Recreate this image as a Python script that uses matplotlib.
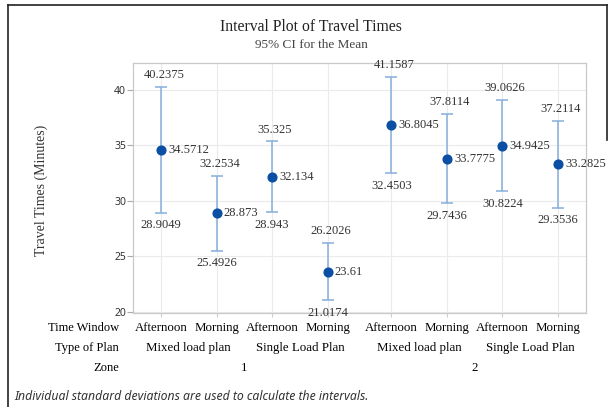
import numpy as np
import matplotlib
matplotlib.use('Agg')
import matplotlib.pyplot as plt
from matplotlib.transforms import blended_transform_factory
from matplotlib.lines import Line2D

# data
time_window = ['Afternoon', 'Morning', 'Afternoon', 'Morning',
               'Afternoon', 'Morning', 'Afternoon', 'Morning']
plan_types = ['Mixed load plan', 'Single Load Plan', 'Mixed load plan', 'Single Load Plan']
zones = ['1', '2']
means = [34.5712, 28.873, 32.134, 23.61, 36.8045, 33.7775, 34.9425, 33.2825]
lower = [28.9049, 25.4926, 28.943, 21.0174, 32.4503, 29.7436, 30.8224, 29.3536]
upper = [40.2375, 32.2534, 35.325, 26.2026, 41.1587, 37.8114, 39.0626, 37.2114]
y_ticks = [20, 25, 30, 35, 40]

W, H = 610, 407
serif = 'Liberation Serif'
line_col = '#86aedc'
dot_col = '#0a4fa3'
txt_col = '#333333'

# x positions: small extra gap between zones
xpos = np.array([1, 2, 3, 4, 5.15, 6.15, 7.15, 8.15])

fig = plt.figure(figsize=(W / 100, H / 100), dpi=100)
ax = fig.add_axes([133 / W, 1 - 313 / H, (586 - 133) / W, (313 - 63) / H])

means = np.array(means)
lo = means - np.array(lower)
hi = np.array(upper) - means
ax.errorbar(xpos, means, yerr=[lo, hi], fmt='none', ecolor=line_col,
            elinewidth=1.1, capsize=4, capthick=1.1, zorder=3)
ax.plot(xpos, means, 'o', color=dot_col, markersize=6.3, zorder=4)

for x, m, l, u in zip(xpos, means, lower, upper):
    ax.annotate(f'{u:g}', (x, u), xytext=(2, 4), textcoords='offset points',
                ha='center', va='bottom', fontsize=9, family=serif, color=txt_col)
    ax.annotate(f'{l:g}', (x, l), xytext=(0, -4.5), textcoords='offset points',
                ha='center', va='top', fontsize=9, family=serif, color=txt_col)
    ax.annotate(f'{m:g}', (x, m), xytext=(5, 0), textcoords='offset points',
                ha='left', va='center', fontsize=9, family=serif, color=txt_col)

ax.set_xlim(0.495, 8.655)
ax.set_ylim(19.88, 42.39)
ax.set_yticks(y_ticks)
ax.set_xticks(xpos)
ax.set_xticklabels([])
ax.tick_params(axis='y', labelsize=7.5, colors='#aaaaaa', labelcolor=txt_col,
               length=4, width=0.8, pad=1)
ax.tick_params(axis='x', colors='#cccccc', length=3, width=0.8)
for lbl in ax.get_yticklabels():
    lbl.set_family('Noto Sans')
ax.grid(True, color='#ebebeb', linewidth=0.8, zorder=0)
ax.set_axisbelow(True)
for s in ax.spines.values():
    s.set_color('#c8c8c8')
    s.set_linewidth(0.9)

# category rows under the axis
tr = blended_transform_factory(ax.transData, fig.transFigure)
rows_y = [1 - 328 / H, 1 - 348 / H, 1 - 368 / H]
row_names = ['Time Window', 'Type of Plan', 'Zone']
for name, yy in zip(row_names, rows_y):
    fig.text(119 / W, yy, name, ha='right', va='center', fontsize=9,
             family=serif, color='black')
for x, t in zip(xpos, time_window):
    fig.text(x, rows_y[0], t, transform=tr, ha='center', va='center',
             fontsize=9.3, family=serif, color='black')
for i, p in enumerate(plan_types):
    xc = (xpos[2 * i] + xpos[2 * i + 1]) / 2
    fig.text(xc, rows_y[1], p, transform=tr, ha='center', va='center',
             fontsize=9.3, family=serif, color='black')
for i, z in enumerate(zones):
    xc = xpos[4 * i:4 * i + 4].mean()
    fig.text(xc, rows_y[2], z, transform=tr, ha='center', va='center',
             fontsize=9.3, family=serif, color='black')

fig.text(41 / W, 1 - 190 / H, 'Travel Times (Minutes)', rotation=90,
         ha='center', va='center', fontsize=10, family=serif, color=txt_col)

fig.text(311 / W, 1 - 27 / H, 'Interval Plot of Travel Times', ha='center',
         va='center', fontsize=11.3, family=serif, color='#222222')
fig.text(311 / W, 1 - 45 / H, '95% CI for the Mean', ha='center',
         va='center', fontsize=9.5, family=serif, color='#444444')

fig.text(14 / W, 1 - 396 / H,
         'Individual standard deviations are used to calculate the intervals.',
         ha='left', va='center', fontsize=8.8, family='Noto Sans', style='italic',
         color=txt_col)

# screenshot frame
fig.add_artist(Line2D([8 / W, 8 / W], [0, 1 - 5 / H], transform=fig.transFigure,
                      color='#222222', linewidth=1.2))
fig.add_artist(Line2D([8 / W, 607 / W], [1 - 5 / H, 1 - 5 / H],
                      transform=fig.transFigure, color='#222222', linewidth=1.2))
fig.add_artist(Line2D([607 / W, 607 / W], [1 - 5 / H, 1 - 140 / H],
                      transform=fig.transFigure, color='#222222', linewidth=1.2))

fig.savefig('out.png', dpi=100)
